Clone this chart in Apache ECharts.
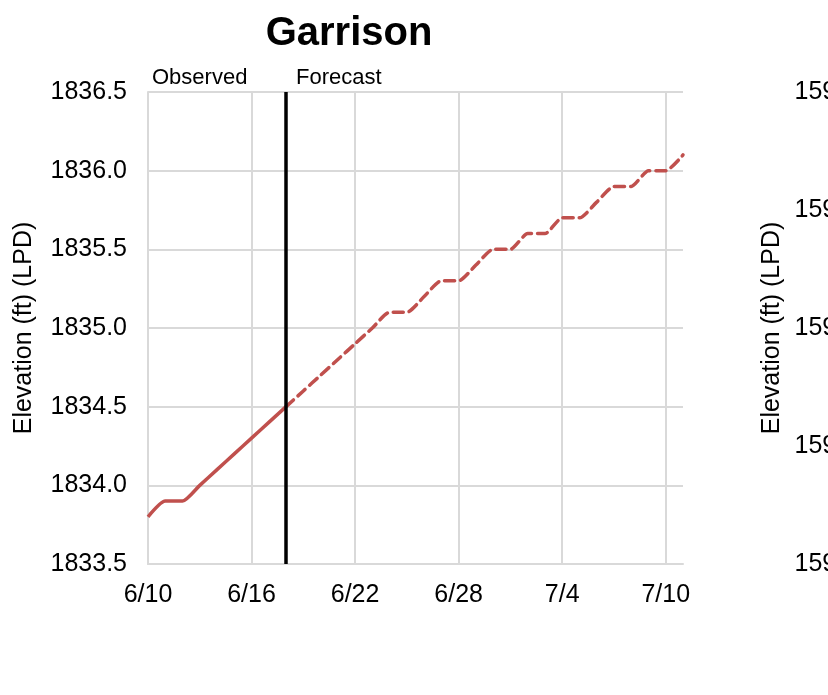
<!DOCTYPE html>
<html>
<head>
<meta charset="utf-8">
<script src="https://cdn.jsdelivr.net/npm/echarts@6/dist/echarts.min.js"></script>
<style>
html,body{margin:0;padding:0;background:#fff;}
#chart{width:828px;height:695px;}
</style>
</head>
<body>
<div id="chart"></div>
<script>
var dates = ['6/10','6/11','6/12','6/13','6/14','6/15','6/16','6/17','6/18','6/19','6/20','6/21','6/22','6/23','6/24','6/25','6/26','6/27','6/28','6/29','6/30','7/1','7/2','7/3','7/4','7/5','7/6','7/7','7/8','7/9','7/10','7/11'];
var observedValues = [1833.8,1833.9,1833.9,1834.0,1834.1,1834.2,1834.3,1834.4,1834.5];
var forecastValues = [1834.5,1834.6,1834.7,1834.8,1834.9,1835.0,1835.1,1835.1,1835.2,1835.3,1835.3,1835.4,1835.5,1835.5,1835.6,1835.6,1835.7,1835.7,1835.8,1835.9,1835.9,1836.0,1836.0,1836.1];
var forecastStartDate = '6/18';
var yMin = 1833.5, yMax = 1836.5, yStep = 0.5;
var y2Min = 1594, y2Max = 1598, y2Step = 1;

var startIdx = dates.indexOf(forecastStartDate);
var obsData = dates.map(function(d, i){ return i < observedValues.length ? observedValues[i] : null; });
var fcData = dates.map(function(d, i){ return i >= startIdx ? forecastValues[i - startIdx] : null; });

var FONT = 'Liberation Sans, Arial, sans-serif';
var gridGray = '#d9d9d9';
var red = '#C0504D';

var chart = echarts.init(document.getElementById('chart'), null, {renderer:'canvas'});
var option = {
  backgroundColor:'#fff',
  animation:false,
  title:{text:'Garrison', left:344, top:9, textAlign:'center',
    textStyle:{fontFamily:FONT, fontSize:40, fontWeight:'bold', color:'#000'}},
  grid:[
    {left:148, top:92, width:535, height:472},
    {left:892, top:92, width:500, height:472}
  ],
  xAxis:[
    {type:'category', gridIndex:0, data:dates, boundaryGap:false,
      axisLine:{lineStyle:{color:gridGray, width:2}},
      axisTick:{show:false},
      axisLabel:{interval:5, margin:19, fontFamily:FONT, fontSize:25, color:'#000'},
      splitLine:{show:true, interval:5, lineStyle:{color:gridGray, width:2}}},
    {type:'category', gridIndex:1, data:dates, boundaryGap:false,
      axisLine:{lineStyle:{color:gridGray, width:2}},
      axisTick:{show:false},
      axisLabel:{interval:5, margin:19, fontFamily:FONT, fontSize:25, color:'#000'},
      splitLine:{show:true, interval:5, lineStyle:{color:gridGray, width:2}}}
  ],
  yAxis:[
    {type:'value', gridIndex:0, min:yMin, max:yMax, interval:yStep,
      name:'Elevation (ft) (LPD)', nameLocation:'middle', nameGap:111,
      nameTextStyle:{fontFamily:FONT, fontSize:25, color:'#000'},
      axisLine:{show:true, lineStyle:{color:gridGray, width:2}},
      axisTick:{show:false},
      axisLabel:{margin:21, fontFamily:FONT, fontSize:25, color:'#000', padding:[3,0,0,0],
        formatter:function(v){return v.toFixed(1);}},
      splitLine:{lineStyle:{color:gridGray, width:2}}},
    {type:'value', gridIndex:1, min:y2Min, max:y2Max, interval:y2Step,
      name:'Elevation (ft) (LPD)', nameLocation:'middle', nameGap:107,
      nameTextStyle:{fontFamily:FONT, fontSize:25, color:'#000'},
      axisLine:{show:true, lineStyle:{color:gridGray, width:2}},
      axisTick:{show:false},
      axisLabel:{margin:21, fontFamily:FONT, fontSize:25, color:'#000', padding:[3,0,0,0],
        formatter:function(v){return v.toFixed(1);}},
      splitLine:{lineStyle:{color:gridGray, width:2}}}
  ],
  series:[
    {name:'Observed', type:'line', xAxisIndex:0, yAxisIndex:0, data:obsData,
      smooth:0.2, showSymbol:false, connectNulls:false,
      lineStyle:{color:red, width:3.5}, z:3},
    {name:'Forecast', type:'line', xAxisIndex:0, yAxisIndex:0, data:fcData,
      smooth:0.2, showSymbol:false, connectNulls:false,
      lineStyle:{color:red, width:3.5, type:[10,6], cap:'round'}, z:3,
      markLine:{silent:true, symbol:'none', animation:false,
        lineStyle:{color:'#000', width:3.5, type:'solid'},
        label:{show:false},
        data:[{xAxis:forecastStartDate}]}}
  ]
};
chart.setOption(option);

var pxLine = chart.convertToPixel({xAxisIndex:0, yAxisIndex:0}, [forecastStartDate, yMax]);
var pxStart = chart.convertToPixel({xAxisIndex:0, yAxisIndex:0}, [dates[0], yMax]);
chart.setOption({
  graphic:[
    {type:'text', left:pxStart[0]+4, top:pxLine[1]-25,
      style:{text:'Observed', font:'22px ' + FONT, fill:'#000'}},
    {type:'text', left:pxLine[0]+10, top:pxLine[1]-25,
      style:{text:'Forecast', font:'22px ' + FONT, fill:'#000'}}
  ]
});
</script>
</body>
</html>
